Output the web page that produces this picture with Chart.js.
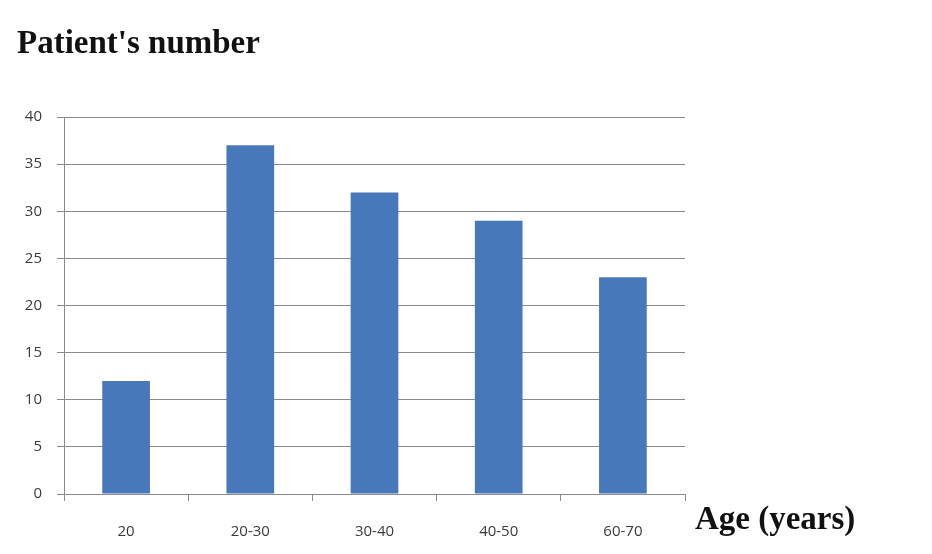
<!DOCTYPE html>
<html>
<head>
<meta charset="utf-8">
<script src="https://cdn.jsdelivr.net/npm/chart.js@4"></script>
<style>
  html, body { margin: 0; padding: 0; background: #fff; }
  #wrap { width: 932px; height: 554px; position: relative; }
</style>
</head>
<body>
<div id="wrap"><canvas id="ageChart" width="932" height="554"></canvas></div>
<script>
// Data
const ageGroups = ['20', '20-30', '30-40', '40-50', '60-70'];
const patients = [12, 37, 32, 29, 23];
const yTicks = [0, 5, 10, 15, 20, 25, 30, 35, 40];

const gridColor = '#8a8a8a';
const labelFont = { family: 'Open Sans', size: 15 };

// the two bold serif captions sit outside the plot area
const captions = {
  id: 'captions',
  afterDraw(chart) {
    const { ctx, chartArea } = chart;
    ctx.save();
    ctx.fillStyle = '#111';
    ctx.font = 'bold 33px "Liberation Serif"';
    ctx.textBaseline = 'alphabetic';
    ctx.textAlign = 'left';
    ctx.fillText("Patient's number", 17, 53);
    ctx.fillText('Age (years)', chartArea.right + 10, 529);
    ctx.restore();
  }
};

new Chart(document.getElementById('ageChart'), {
  type: 'bar',
  data: {
    labels: ageGroups,
    datasets: [{
      label: "Patient's number",
      data: patients,
      backgroundColor: '#4779ba',
      borderWidth: 0,
      barPercentage: 0.48,
      categoryPercentage: 0.8
    }]
  },
  options: {
    responsive: false,
    animation: false,
    layout: { padding: { left: 0, right: 247, top: 117, bottom: 0 } },
    plugins: { legend: { display: false }, tooltip: { enabled: false } },
    scales: {
      y: {
        min: 0,
        max: 40,
        afterBuildTicks(scale) { scale.ticks = yTicks.map(v => ({ value: v })); },
        afterFit(scale) { scale.width = 64; },
        grid: { color: gridColor, lineWidth: 1, tickLength: 7 },
        border: { color: gridColor },
        ticks: { color: '#3a3a3a', font: labelFont, padding: 15 }
      },
      x: {
        afterFit(scale) { scale.height = 60; },
        grid: { drawOnChartArea: false, color: gridColor, tickLength: 7, offset: true },
        border: { color: gridColor },
        ticks: { color: '#3a3a3a', font: labelFont, padding: 22 }
      }
    }
  },
  plugins: [captions]
});
</script>
</body>
</html>
